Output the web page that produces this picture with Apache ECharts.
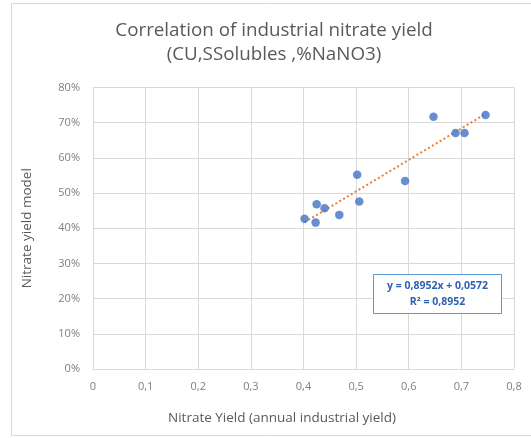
<!DOCTYPE html>
<html><head><meta charset="utf-8">
<script src="https://cdn.jsdelivr.net/npm/echarts@6/dist/echarts.min.js"></script>
<style>html,body{margin:0;padding:0;background:#fff}#c{width:531px;height:438px}</style>
</head><body><div id="c"></div>
<script>
const titleLines = ["Correlation of industrial nitrate yield", "(CU,SSolubles ,%NaNO3)"];
const xTitle = "Nitrate Yield (annual industrial yield)";
const yTitle = "Nitrate yield model";
const xValues = [0.647, 0.746, 0.689, 0.706, 0.502, 0.593, 0.506, 0.425, 0.440, 0.468, 0.402, 0.423];
const yValues = [0.717, 0.722, 0.671, 0.671, 0.552, 0.534, 0.476, 0.468, 0.457, 0.438, 0.427, 0.416];
const trendX = [0.402, 0.746];
const trendY = [0.417, 0.725];
const equationLines = ["y = 0,8952x + 0,0572", "R² = 0,8952"];

const font = "'Open Sans', 'Liberation Sans', sans-serif";
const chart = echarts.init(document.getElementById('c'), null, {renderer: 'canvas'});
chart.setOption({
  animation: false,
  backgroundColor: '#fff',
  graphic: [
    {type: 'rect', shape: {x: 11.5, y: 3.5, width: 530, height: 432}, style: {fill: 'none', stroke: '#d9d9d9', lineWidth: 1}, silent: true, z: -1},
    {type: 'text', x: 274, y: 31, style: {text: titleLines[0], fill: '#595959', font: '18.8px ' + font, textAlign: 'center', textVerticalAlign: 'middle'}},
    {type: 'text', x: 274, y: 55, style: {text: titleLines[1], fill: '#595959', font: '18.8px ' + font, textAlign: 'center', textVerticalAlign: 'middle'}},
    {type: 'text', x: 282, y: 418, style: {text: xTitle, fill: '#595959', font: '13.5px ' + font, textAlign: 'center', textVerticalAlign: 'middle'}},
    {type: 'rect', shape: {x: 373.5, y: 274.5, width: 128, height: 39}, style: {fill: '#fff', stroke: '#5b9bd5', lineWidth: 1}, z: 10},
    {type: 'text', x: 437.5, y: 286, z: 11, style: {text: equationLines[0], fill: '#2e62b0', font: 'bold 10.5px ' + font, textAlign: 'center', textVerticalAlign: 'middle'}},
    {type: 'text', x: 437.5, y: 302, z: 11, style: {text: equationLines[1], fill: '#2e62b0', font: 'bold 10.5px ' + font, textAlign: 'center', textVerticalAlign: 'middle'}}
  ],
  grid: {left: 93, right: 17, top: 87.5, bottom: 69, containLabel: false},
  xAxis: {
    type: 'value', min: 0, max: 0.8, interval: 0.1,
    axisLine: {show: true, lineStyle: {color: '#d9d9d9'}},
    axisTick: {show: false},
    splitLine: {show: true, lineStyle: {color: '#d9d9d9'}},
    axisLabel: {margin: 12, color: '#7f7f7f', fontFamily: font, fontSize: 11,
      formatter: v => (Math.round(v * 10) / 10).toString().replace('.', ',')}
  },
  yAxis: {
    type: 'value', min: 0, max: 0.8, interval: 0.1,
    axisLine: {show: false}, axisTick: {show: false},
    splitLine: {show: true, lineStyle: {color: '#d9d9d9'}},
    axisLabel: {margin: 13, color: '#7f7f7f', fontFamily: font, fontSize: 11,
      formatter: v => Math.round(v * 100) + '%'},
    name: yTitle, nameLocation: 'middle', nameGap: 59, nameRotate: 90,
    nameTextStyle: {color: '#595959', fontFamily: font, fontSize: 13.5}
  },
  series: [
    {
      type: 'line', data: trendX.map((x, i) => [x, trendY[i]]), showSymbol: false, symbol: 'none',
      lineStyle: {color: '#ed7d31', width: 2, type: [2, 2.5]}, z: 1, silent: true
    },
    {
      type: 'scatter', data: xValues.map((x, i) => [x, yValues[i]]), symbolSize: 8.5,
      itemStyle: {color: '#4472c4'}, z: 3
    }
  ]
});
</script></body></html>
